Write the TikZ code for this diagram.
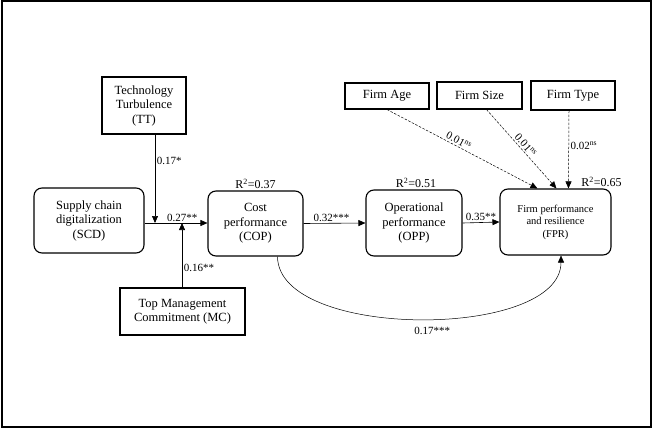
\documentclass[tikz,border=0pt]{standalone}
\usepackage{fontspec}
\setmainfont{Liberation Serif}
\usetikzlibrary{arrows.meta}

\tikzset{
  constr/.style={draw, line width=1.1pt, rounded corners=8pt, fill=white, align=center,
    font=\fontsize{12.5}{14.5}\selectfont},
  ctrl/.style={draw, line width=1.1pt, fill=white, align=center,
    font=\fontsize{12.5}{14.5}\selectfont},
  arr/.style={-{Triangle[length=7pt,width=6pt]}, line width=0.6pt},
  darr/.style={-{Triangle[length=7pt,width=6pt]}, line width=0.5pt, dash pattern=on 2.5pt off 1.5pt},
  coef/.style={font=\fontsize{11}{13}\selectfont, inner sep=1.5pt}
}

\begin{document}
\begin{tikzpicture}[x=1pt,y=-1pt] %Modelo estructural
    \useasboundingbox (0,0) rectangle (652,428);
    \draw[line width=2pt] (1.5,1.5) rectangle (650.5,426.5);

    \coordinate (jT) at (155,223);
    \coordinate (jM) at (182,223);

    \node[ctrl, minimum width=84pt, minimum height=57pt] (TT) at (144,105.5) {Technology\\Turbulence\\(TT)};
    \node[constr, minimum width=110pt, minimum height=65pt] (SCD) at (89,220.5) {Supply chain\\digitalization\\(SCD)};
    \node[constr, minimum width=95pt, minimum height=65pt] (COP) at (255.5,223.5) {Cost\\performance\\(COP)};
    \node[ctrl, minimum width=125pt, minimum height=47pt] (MC) at (182.5,311.5) {Top Management\\Commitment (MC)};
    \node[constr, minimum width=96pt, minimum height=66pt] (OPP) at (414,223) {Operational\\performance\\(OPP)};
    \node[constr, minimum width=111pt, minimum height=66pt, font=\fontsize{10.5}{12.5}\selectfont] (FPR) at (555.5,222) {Firm performance\\and resilience\\(FPR)};

    \node[ctrl, minimum width=84pt, minimum height=26pt] (Age) at (387,96) {Firm Age};
    \node[ctrl, minimum width=85pt, minimum height=27pt] (Size) at (479.5,95.5) {Firm Size};
    \node[ctrl, minimum width=84pt, minimum height=29pt] (Type) at (573,95.5) {Firm Type};

    \draw[arr] (SCD.east |- jT) -- (COP.west |- jT) node[coef, pos=0.6, above]{0.27**};
    \draw[arr] (jT |- TT.south) -- (jT) node[coef, pos=0.3, right]{0.17*};
    \draw[arr] (jM |- MC.north) -- (jM) node[coef, pos=0.3, right]{0.16**};

    \draw[arr] (COP.east) -- (OPP.west) node[coef, pos=0.45, above]{0.32***};
    \draw[arr] (OPP.east) -- (FPR.west) node[coef, pos=0.5, above]{0.35**};

    \draw[arr, line width=0.5pt] ([xshift=22pt]COP.south) .. controls (278,340) and (561,340) .. ([xshift=5.5pt]FPR.south)
        node[coef, pos=0.53, below=7pt]{0.17***};

    \draw[darr] (Age.south) -- ([xshift=38pt]FPR.north west) node[coef, pos=0.46, sloped, above]{0.01\textsuperscript{ns}};
    \draw[darr] ([xshift=7pt]Size.south) -- ([xshift=57pt]FPR.north west) node[coef, pos=0.5, sloped, above]{0.01\textsuperscript{ns}};
    \draw[darr] ([xshift=-4pt]Type.south) -- ([xshift=69pt]FPR.north west) node[coef, pos=0.45, right]{0.02\textsuperscript{ns}};

    \node[coef, font=\fontsize{12}{14}\selectfont, anchor=south] at (COP.north) {R\textsuperscript{2}=0.37};
    \node[coef, font=\fontsize{12}{14}\selectfont, anchor=south] at ([xshift=2pt]OPP.north) {R\textsuperscript{2}=0.51};
    \node[coef, font=\fontsize{12}{14}\selectfont, anchor=south west] at ([xshift=-32pt]FPR.north east) {R\textsuperscript{2}=0.65};
\end{tikzpicture}
\end{document}
